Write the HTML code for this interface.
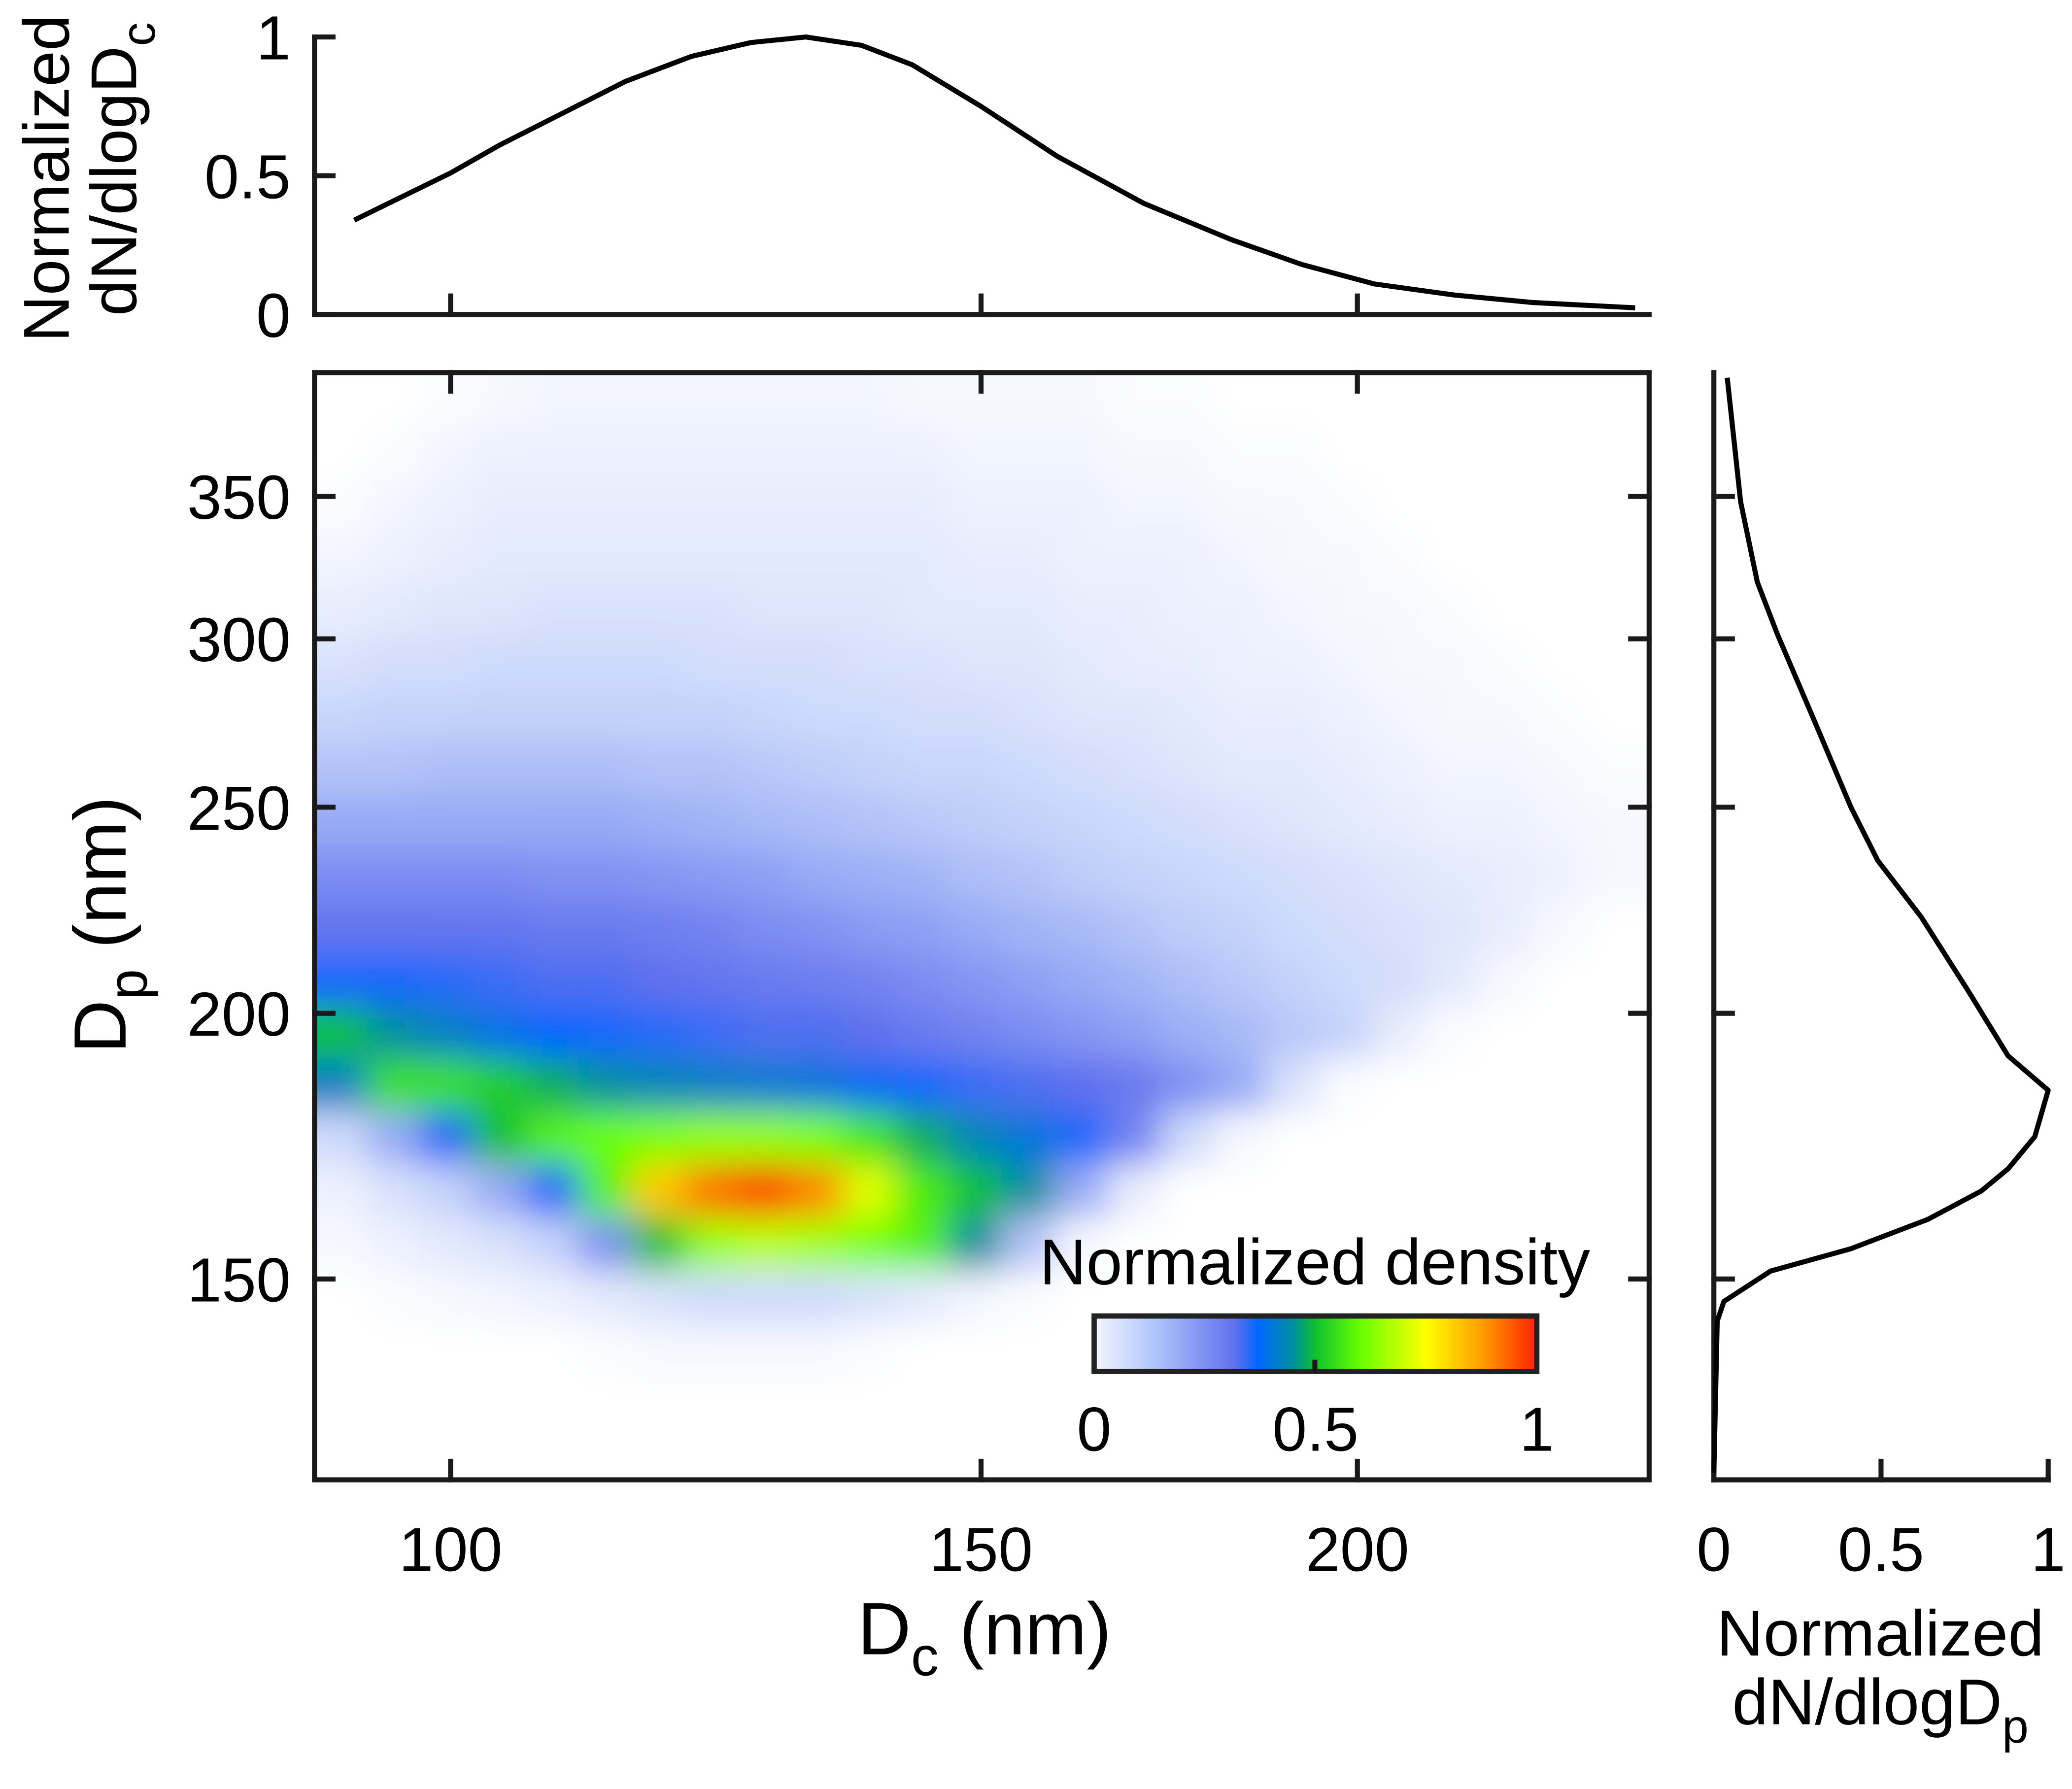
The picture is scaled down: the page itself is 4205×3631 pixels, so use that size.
<!DOCTYPE html>
<html><head><meta charset="utf-8">
<style>
html,body{margin:0;padding:0;background:#fff;}
svg{display:block;}
text{font-family:"Liberation Sans",Arial,sans-serif;fill:#000;}
</style></head>
<body>
<svg id="fig" xmlns="http://www.w3.org/2000/svg" width="4205" height="3631" viewBox="0 0 1568 1354">
<defs>
<clipPath id="mainclip"><rect x="238" y="282" width="1010" height="838"/></clipPath>
<filter id="blur" x="-5%" y="-5%" width="110%" height="110%"><feGaussianBlur stdDeviation="13"/></filter>
<linearGradient id="cbgrad" x1="0" x2="1" y1="0" y2="0">
<stop offset="0" stop-color="#f4f6fe"/><stop offset="0.15" stop-color="#a8c0fa"/>
<stop offset="0.32" stop-color="#6070ee"/><stop offset="0.37" stop-color="#0066ff"/>
<stop offset="0.45" stop-color="#0090a0"/><stop offset="0.5" stop-color="#10c030"/>
<stop offset="0.6" stop-color="#66ff00"/><stop offset="0.75" stop-color="#ffff00"/>
<stop offset="0.88" stop-color="#ff9a00"/><stop offset="1" stop-color="#ff2000"/>
</linearGradient>
</defs>
<g id="heat" clip-path="url(#mainclip)"><g id="heatcells" filter="url(#blur)"></g></g>
<g id="axes"></g>
</svg>
<script>
// ---- data ----
const dcCats=[92,95.7,99.7,103.8,108.1,112.5,117.2,122,127,132.3,137.7,143.4,149.3,155.5,161.9,168.6,175.5,182.8,190.3,198.2,206.4,214.9,223.7,233,242.6];
const dpCats=[389,367,347,328,309,292,276,261,246,232,219,207,196,185,175,165,156,147,139,131,124];
const density=[
[0,0,0.01,0.02,0.03,0.03,0.03,0.03,0.03,0.03,0.03,0.02,0.02,0.02,0.02,0.01,0.01,0,0,0,0,0,0,0,0],
[0,0.01,0.03,0.04,0.04,0.04,0.04,0.04,0.04,0.04,0.04,0.04,0.03,0.03,0.03,0.02,0.02,0.01,0.01,0,0,0,0,0,0],
[0.01,0.03,0.04,0.05,0.05,0.05,0.05,0.05,0.05,0.05,0.05,0.05,0.04,0.04,0.04,0.03,0.03,0.02,0.02,0.01,0,0,0,0,0],
[0.03,0.04,0.05,0.06,0.06,0.06,0.06,0.06,0.06,0.06,0.06,0.06,0.05,0.05,0.04,0.04,0.04,0.03,0.02,0.02,0.01,0,0,0,0],
[0.05,0.06,0.07,0.07,0.08,0.08,0.08,0.08,0.07,0.07,0.07,0.06,0.06,0.06,0.05,0.05,0.04,0.04,0.03,0.02,0.02,0.01,0,0,0],
[0.08,0.09,0.09,0.1,0.1,0.1,0.1,0.09,0.09,0.09,0.08,0.08,0.07,0.07,0.06,0.05,0.05,0.04,0.04,0.03,0.02,0.02,0.01,0,0],
[0.11,0.12,0.12,0.12,0.12,0.12,0.12,0.12,0.11,0.1,0.1,0.09,0.09,0.08,0.07,0.07,0.06,0.05,0.05,0.04,0.03,0.02,0.02,0.01,0],
[0.15,0.15,0.16,0.16,0.16,0.16,0.15,0.15,0.14,0.13,0.12,0.11,0.11,0.1,0.09,0.08,0.07,0.06,0.06,0.05,0.04,0.03,0.03,0.02,0.01],
[0.2,0.2,0.2,0.2,0.2,0.2,0.19,0.18,0.17,0.16,0.15,0.14,0.13,0.12,0.11,0.1,0.09,0.08,0.07,0.06,0.05,0.04,0.04,0.03,0.02],
[0.26,0.26,0.26,0.26,0.25,0.25,0.24,0.23,0.22,0.2,0.19,0.18,0.16,0.15,0.13,0.12,0.11,0.1,0.09,0.08,0.07,0.06,0.05,0.04,0.02],
[0.31,0.31,0.31,0.31,0.3,0.3,0.29,0.28,0.26,0.25,0.23,0.22,0.2,0.18,0.17,0.15,0.13,0.12,0.1,0.09,0.08,0.07,0.05,0.02,0],
[0.36,0.36,0.35,0.34,0.33,0.33,0.32,0.31,0.3,0.29,0.28,0.26,0.24,0.22,0.2,0.18,0.16,0.14,0.12,0.1,0.09,0.06,0.02,0,0],
[0.5,0.45,0.42,0.39,0.37,0.36,0.35,0.34,0.33,0.33,0.32,0.3,0.28,0.26,0.24,0.22,0.19,0.17,0.14,0.12,0.05,0.01,0,0,0],
[0.42,0.55,0.55,0.52,0.48,0.45,0.43,0.42,0.41,0.4,0.38,0.36,0.34,0.33,0.32,0.3,0.25,0.2,0.08,0.01,0,0,0,0,0],
[0.1,0.2,0.35,0.5,0.58,0.6,0.62,0.64,0.64,0.62,0.56,0.48,0.43,0.4,0.36,0.28,0.1,0.02,0,0,0,0,0,0,0],
[0.04,0.08,0.12,0.2,0.35,0.58,0.82,0.92,0.97,0.9,0.72,0.57,0.5,0.45,0.2,0.05,0,0,0,0,0,0,0,0,0],
[0.02,0.04,0.06,0.08,0.12,0.25,0.5,0.65,0.68,0.66,0.62,0.58,0.45,0.15,0.02,0,0,0,0,0,0,0,0,0,0],
[0,0.01,0.02,0.03,0.04,0.06,0.08,0.1,0.1,0.1,0.08,0.06,0.03,0.01,0,0,0,0,0,0,0,0,0,0,0],
[0,0,0,0,0,0.01,0.02,0.02,0.02,0.02,0.01,0,0,0,0,0,0,0,0,0,0,0,0,0,0],
[0,0,0,0,0,0,0,0,0,0,0,0,0,0,0,0,0,0,0,0,0,0,0,0,0],
[0,0,0,0,0,0,0,0,0,0,0,0,0,0,0,0,0,0,0,0,0,0,0,0,0]];
const topDc=[92.9,100,103.8,114.3,120.2,125.8,131.2,136.9,142.3,150,159,169.9,181.6,191.7,202.6,215.4,228.7,247.3];
const topVal=[0.34,0.51,0.61,0.84,0.93,0.98,1.0,0.97,0.9,0.75,0.57,0.4,0.27,0.18,0.11,0.07,0.043,0.024];
const rightDp=[398,348,319,301.5,277,250,236,222,205,191,184,175,169,165,160,155,151.3,146.4,143.3,121.6];
const rightVal=[0.04,0.08,0.13,0.19,0.29,0.41,0.49,0.62,0.76,0.88,1.0,0.96,0.88,0.8,0.64,0.41,0.17,0.03,0.01,0];
const xTicks=[100,150,200];
const yTicks=[150,200,250,300,350];
const normTicks=[0,0.5,1];
const normTickLabels=['0','0.5','1'];

// ---- scales ----
const X=d=>341+990*Math.log(d/100);
const Y=d=>968-699*Math.log(d/150);
const TY=v=>238-210*v;
const RX=v=>1297+253*v;

const NS='http://www.w3.org/2000/svg';
function mk(tag,attrs,parent){const e=document.createElementNS(NS,tag);for(const k in attrs)e.setAttribute(k,attrs[k]);parent.appendChild(e);return e;}
const stops=[[0,[255,255,255]],[0.03,[242,245,254]],[0.12,[196,210,250]],[0.22,[140,160,244]],[0.32,[96,112,238]],[0.37,[0,102,255]],[0.45,[0,144,160]],[0.5,[16,192,48]],[0.6,[102,255,0]],[0.75,[255,255,0]],[0.88,[255,154,0]],[1,[255,32,0]]];
function cmap(v){v=Math.max(0,Math.min(1,v));for(let i=1;i<stops.length;i++){if(v<=stops[i][0]){const a=stops[i-1],b=stops[i],t=(v-a[0])/(b[0]-a[0]);return 'rgb('+a[1].map((c,j)=>Math.round(c+(b[1][j]-c)*t)).join(',')+')';}}return 'rgb(255,32,0)';}

// heatmap
const hc=document.getElementById('heatcells');
const xs=dcCats.map(X), ys=dpCats.map(Y);
function bounds(arr,i,ext){const lo=i>0?(arr[i-1]+arr[i])/2:arr[i]-(arr[1]-arr[0])/2-ext;const hi=i<arr.length-1?(arr[i]+arr[i+1])/2:arr[i]+(arr[i]-arr[i-1])/2+ext;return [lo,hi];}
mk('rect',{x:200,y:250,width:1100,height:900,fill:'#fff'},hc);
for(let r=0;r<dpCats.length;r++){for(let c=0;c<dcCats.length;c++){
 const v=density[r][c]; if(v<=0)continue;
 const [x0,x1]=bounds(xs,c,40), [y0,y1]=bounds(ys,r,40);
 const e=mk('rect',{x:Math.min(x0,x1),y:Math.min(y0,y1),width:Math.abs(x1-x0)+0.5,height:Math.abs(y1-y0)+0.5,fill:cmap(v)},hc);
 
 
}}

const ax=document.getElementById('axes');
const LW=3.8;
function line(x1,y1,x2,y2,name){const e=mk('line',{x1,y1,x2,y2,stroke:'#1a1a1a','stroke-width':LW,'stroke-linecap':'square'},ax);return e;}
function text(x,y,s,size,anchor,name,extra){const e=mk('text',Object.assign({x,y,'font-size':size,'text-anchor':anchor},extra||{}),ax);e.textContent=s;return e;}

const FS=47;
// main frame
const fr=mk('rect',{x:238,y:282,width:1010,height:838,fill:'none',stroke:'#1a1a1a','stroke-width':LW},ax);

const TL=14;
xTicks.forEach(t=>{const x=X(t);line(x,1120,x,1120-TL,'x-tick');line(x,282,x,282+TL,'x-tick-top');line(x,238,x,238-TL,'top-panel-x-tick');
 text(x,1189,String(t),FS,'middle','x-tick-label');});
yTicks.forEach(t=>{const y=Y(t);line(238,y,238+TL,y,'y-tick');line(1248,y,1248-TL,y,'y-tick-right');line(1297,y,1297+TL,y,'right-panel-y-tick');
 text(220,y+17,String(t),FS,'end','y-tick-label');});

// x title
const xt=text(745,1252,'',56,'middle','x-axis-title');
xt.innerHTML='D<tspan font-size="42" dy="16">c</tspan><tspan dy="-16"> (nm)</tspan>';
const yt=text(0,0,'',56,'middle','y-axis-title',{transform:'translate(95,700) rotate(-90)'});
yt.innerHTML='D<tspan font-size="42" dy="16">p</tspan><tspan dy="-16"> (nm)</tspan>';

// top panel
line(238,28,238,238,'top-panel-y-axis');line(238,238,1248,238,'top-panel-x-axis');
normTicks.forEach((v,i)=>{const y=TY(v);line(238,y,238+TL,y,'top-panel-y-tick');text(220,y+17,normTickLabels[i],FS,'end','top-panel-y-tick-label');});
const tp=mk('polyline',{points:topDc.map((d,i)=>X(d)+','+TY(topVal[i])).join(' '),fill:'none',stroke:'#000','stroke-width':3.8,'stroke-linejoin':'round'},ax);

text(0,0,'Normalized',49,'middle','top-panel-y-title-line1',{transform:'translate(52,135) rotate(-90)'});
const t2=text(0,0,'',49,'middle','top-panel-y-title-line2',{transform:'translate(103,128) rotate(-90)'});
t2.innerHTML='dN/dlogD<tspan font-size="36" dy="14">c</tspan>';

// right panel
line(1297,282,1297,1120,'right-panel-y-axis');line(1297,1120,1550,1120,'right-panel-x-axis');
normTicks.forEach((v,i)=>{const x=RX(v);line(x,1120,x,1120-TL,'right-panel-x-tick');text(x,1189,normTickLabels[i],FS,'middle','right-panel-x-tick-label');});
const rp=mk('polyline',{points:rightDp.map((d,i)=>RX(rightVal[i])+','+Y(d)).join(' '),fill:'none',stroke:'#000','stroke-width':3.8,'stroke-linejoin':'round'},ax);

text(1423,1253,'Normalized',49,'middle','right-panel-x-title-line1');
const r2=text(1423,1305,'',49,'middle','right-panel-x-title-line2');
r2.innerHTML='dN/dlogD<tspan font-size="36" dy="14">p</tspan>';

// colorbar
text(995,972,'Normalized density',49,'middle','colorbar-title');
const cb=mk('rect',{x:828,y:996,width:335,height:42,fill:'url(#cbgrad)',stroke:'#222','stroke-width':4},ax);

line(995,1036,995,1031,'colorbar-tick');
normTicks.forEach((v,i)=>text(828+335*v,1098,normTickLabels[i],FS,'middle','colorbar-tick-label'));
</script>
</body></html>
